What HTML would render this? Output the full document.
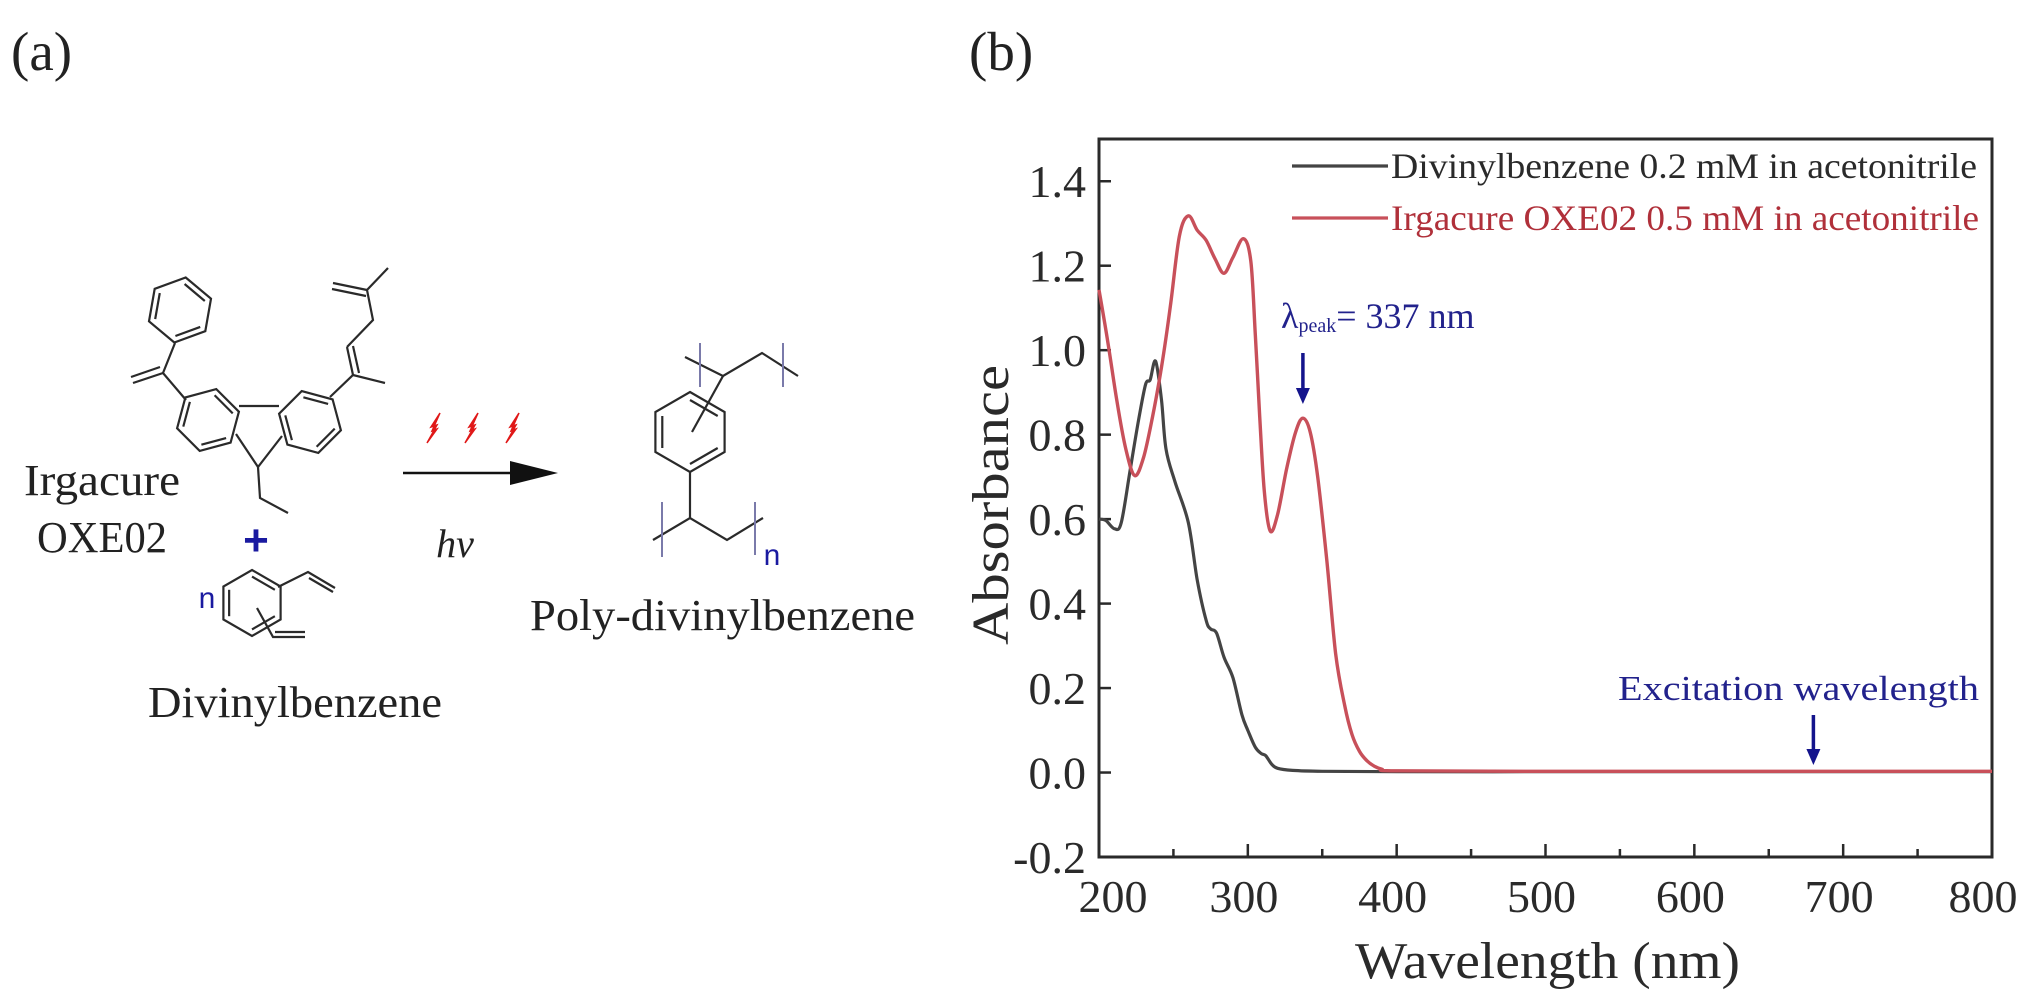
<!DOCTYPE html>
<html><head><meta charset="utf-8"><style>
html,body{margin:0;padding:0;background:#fff;}
svg{display:block;font-family:"Liberation Serif",serif;}
</style></head><body>
<svg id="fig" width="2032" height="1003" viewBox="0 0 2032 1003" xmlns="http://www.w3.org/2000/svg">
<rect width="2032" height="1003" fill="#fff"/>
<text x="11" y="70" font-size="55" fill="#222">(a)</text>
<text x="969" y="70" font-size="55" fill="#222">(b)</text>

<g id="scheme" stroke="#2a2a2a" stroke-width="2.2" fill="none">
</g>
<text x="24" y="495" font-size="44" fill="#222" textLength="156" lengthAdjust="spacingAndGlyphs">Irgacure</text>
<text x="37" y="552" font-size="44" fill="#222" textLength="130" lengthAdjust="spacingAndGlyphs">OXE02</text>
<text x="256" y="555" font-size="44" font-weight="bold" fill="#1a1aa0" text-anchor="middle" font-family="Liberation Sans, sans-serif">+</text>
<text x="455" y="557" font-size="40" font-style="italic" fill="#222" text-anchor="middle">hν</text>
<text x="530" y="630" font-size="44" fill="#222" textLength="385" lengthAdjust="spacingAndGlyphs">Poly-divinylbenzene</text>
<text x="148" y="717" font-size="44" fill="#222" textLength="294" lengthAdjust="spacingAndGlyphs">Divinylbenzene</text>
<text x="207" y="608" font-size="30" fill="#1a1aa0" text-anchor="middle" font-family="Liberation Sans, sans-serif">n</text>
<text x="772" y="565" font-size="30" fill="#1a1aa0" text-anchor="middle" font-family="Liberation Sans, sans-serif">n</text>

<g id="chart"></g>
</svg>
<script>
// ---- chart data ----
var wlBlack = [200,204.5,210.5,215,221,227,231.4,234.4,238,242,245,251,260,266,272,275,279,284,290,296,300,305,309,312,316,320,330,350,400,500,600,700,800];
var absBlack = [0.60,0.597,0.577,0.592,0.718,0.843,0.92,0.93,0.974,0.882,0.766,0.689,0.592,0.456,0.36,0.34,0.33,0.273,0.224,0.137,0.10,0.06,0.045,0.04,0.02,0.01,0.005,0.003,0.002,0.002,0.002,0.002,0.002];
var wlRed = [200,206,212,218,224,230,236,242,248,254,260,266,272,278,284,290,297,302,305,308,311,315,320,326,332,337,342,347,353,359,365,370,375,380,385,390,400,500,600,700,800];
var absRed = [1.143,1.018,0.88,0.766,0.703,0.747,0.843,0.96,1.105,1.27,1.318,1.284,1.26,1.216,1.182,1.22,1.264,1.211,1.037,0.843,0.669,0.572,0.611,0.718,0.805,0.839,0.805,0.698,0.505,0.282,0.16,0.09,0.05,0.028,0.015,0.008,0.004,0.003,0.003,0.003,0.003];
var xTicks = [200,300,400,500,600,700,800];
var xTickLabels = ["200","300","400","500","600","700","800"];
var xMinorTicks = [250,350,450,550,650,750];
var yTicks = [-0.2,0,0.2,0.4,0.6,0.8,1.0,1.2,1.4];
var yTickLabels = ["-0.2","0.0","0.2","0.4","0.6","0.8","1.0","1.2","1.4"];
var seriesNames = ["Divinylbenzene 0.2 mM in acetonitrile","Irgacure OXE02 0.5 mM in acetonitrile"];
var peakWl = 337;
var excitationWl = 680;

var NS = "http://www.w3.org/2000/svg";
var L = 1099, R = 1992, T = 139, B = 857;
var xMin = 200, xMax = 800, yMin = -0.2, yMax = 1.5;
function xs(v){ return L + (v - xMin) / (xMax - xMin) * (R - L); }
function ys(v){ return B - (v - yMin) / (yMax - yMin) * (B - T); }
function mk(tag, attrs, parent){ var e = document.createElementNS(NS, tag); for (var k in attrs) e.setAttribute(k, attrs[k]); parent.appendChild(e); return e; }

var chart = document.getElementById("chart");
var txt;
var frame = mk("rect", {x:L, y:T, width:R-L, height:B-T, fill:"none", stroke:"#2a2a2a", "stroke-width":3}, chart);



xTicks.forEach(function(v, i){
  var t = mk("line", {x1:xs(v), x2:xs(v), y1:B, y2:B-13, stroke:"#2a2a2a", "stroke-width":2.5}, chart);
  
  
  var lx = xs(v) + (i === 0 ? 14 : (i === xTicks.length-1 ? -9 : -4));
  txt = mk("text", {x:lx, y:912, "font-size":46, fill:"#2a2a2a", "text-anchor":"middle"}, chart);
  txt.textContent = xTickLabels[i];
  
  
});
xMinorTicks.forEach(function(v){
  var t = mk("line", {x1:xs(v), x2:xs(v), y1:B, y2:B-8, stroke:"#2a2a2a", "stroke-width":2.5}, chart);
  
  
});
yTicks.forEach(function(v, i){
  var t = mk("line", {x1:L, x2:L+12, y1:ys(v), y2:ys(v), stroke:"#2a2a2a", "stroke-width":2.5}, chart);
  
  
  txt = mk("text", {x:1086, y:ys(v)+16, "font-size":46, fill:"#2a2a2a", "text-anchor":"end"}, chart);
  txt.textContent = yTickLabels[i];
  
  
});

txt = mk("text", {x:1355, y:978, "font-size":52, fill:"#2a2a2a", textLength:385, lengthAdjust:"spacingAndGlyphs"}, chart);
txt.textContent = "Wavelength (nm)";


txt = mk("text", {x:0, y:0, "font-size":52, fill:"#2a2a2a", "text-anchor":"middle", textLength:280, lengthAdjust:"spacingAndGlyphs", transform:"translate(1008,505) rotate(-90)"}, chart);
txt.textContent = "Absorbance";



function linePath(xsArr, ysArr){
  var P = xsArr.map(function(x, i){ return [xs(x), ys(ysArr[i])]; });
  var d = "M" + P[0][0].toFixed(1) + "," + P[0][1].toFixed(1);
  for (var i = 0; i < P.length - 1; i++){
    var p0 = P[Math.max(0, i-1)], p1 = P[i], p2 = P[i+1], p3 = P[Math.min(P.length-1, i+2)];
    var c1x = p1[0] + (p2[0]-p0[0])/6, c1y = p1[1] + (p2[1]-p0[1])/6;
    var c2x = p2[0] - (p3[0]-p1[0])/6, c2y = p2[1] - (p3[1]-p1[1])/6;
    d += "C" + c1x.toFixed(1) + "," + c1y.toFixed(1) + " " + c2x.toFixed(1) + "," + c2y.toFixed(1) + " " + p2[0].toFixed(1) + "," + p2[1].toFixed(1);
  }
  return d;
}
var pb = mk("path", {d:linePath(wlBlack, absBlack), fill:"none", stroke:"#444", "stroke-width":3.2, "stroke-linejoin":"round"}, chart);


var pr = mk("path", {d:linePath(wlRed, absRed), fill:"none", stroke:"#c8505a", "stroke-width":3.4, "stroke-linejoin":"round"}, chart);



// legend
var legColors = ["#444", "#c8505a"], legText = ["#2a2a2a", "#b0303a"], legY = [166, 218];
seriesNames.forEach(function(n, i){
  var ln = mk("line", {x1:1292, x2:1388, y1:legY[i], y2:legY[i], stroke:legColors[i], "stroke-width":3.2}, chart);
  
  
  txt = mk("text", {x:1391, y:legY[i]+12, "font-size":36, fill:legText[i], textLength:(i ? 588 : 586), lengthAdjust:"spacingAndGlyphs"}, chart);
  txt.textContent = n;
  
  
});

// annotations
var pk = mk("text", {x:1281, y:328, "font-size":36, fill:"#22228c"}, chart);


pk.innerHTML = 'λ<tspan font-size="20" dy="4">peak</tspan><tspan dy="-4">= 337 nm</tspan>';
function arrow(x, y1, y2, name){
  var g = mk("g", {}, chart);
  
  
  mk("line", {x1:x, x2:x, y1:y1, y2:y2-14, stroke:"#14148c", "stroke-width":3.5}, g);
  mk("path", {d:"M"+(x-7)+","+(y2-16)+"L"+(x+7)+","+(y2-16)+"L"+x+","+y2+"Z", fill:"#14148c"}, g);
}
arrow(xs(peakWl), 353, 404, 'peak-arrow');
txt = mk("text", {x:1618, y:700, "font-size":35, fill:"#22228c", textLength:361, lengthAdjust:"spacingAndGlyphs"}, chart);
txt.textContent = "Excitation wavelength";


arrow(xs(excitationWl), 715, 765, 'excitation-arrow');

// ---- reaction scheme ----
var sc = document.getElementById("scheme");
function hexPts(cx, cy, r, rot){ var p = []; for (var i = 0; i < 6; i++){ var a = (rot + 60*i) * Math.PI/180; p.push([cx + r*Math.cos(a), cy + r*Math.sin(a)]); } return p; }
function ring(cx, cy, r, rot, name){
  var p = hexPts(cx, cy, r, rot);
  var e = mk("polygon", {points:p.map(function(q){return q[0].toFixed(1)+","+q[1].toFixed(1);}).join(" ")}, sc);
  
  
  var pi = hexPts(cx, cy, r*0.8, rot);
  [0,2,4].forEach(function(k){ mk("line", {x1:pi[k][0], y1:pi[k][1], x2:pi[(k+1)%6][0], y2:pi[(k+1)%6][1]}, sc); });
}
function seg(pts){ mk("polyline", {points:pts.map(function(q){return q.join(",");}).join(" ")}, sc); }
ring(180, 310, 33, -80, 'benzoyl-ring');
ring(208, 420, 32, -75, 'carbazole-left-ring');
ring(310, 422, 32, -105, 'carbazole-right-ring');
seg([[175,343],[163,373],[186,400]]);
seg([[163,373],[133,383]]); seg([[160,367],[131,377]]);
seg([[236,434],[258,467],[282,436]]);
seg([[239,406],[279,406]]);
seg([[258,467],[260,498],[288,513]]);
seg([[330,397],[353,375],[385,383]]);
seg([[353,375],[347,347]]); seg([[359,373],[353,346]]);
seg([[347,347],[373,320],[367,290],[388,268]]);
seg([[367,290],[333,283]]); seg([[366,296],[332,289]]);
ring(252, 603, 33, -90, 'divinylbenzene-ring');
seg([[278,587],[308,572],[335,588]]); seg([[309,578],[333,592]]);
seg([[257,608],[273,637],[305,637]]); seg([[275,632],[305,632]]);
ring(690, 432, 40, -90, 'polymer-ring');
seg([[690,472],[690,518]]);
seg([[653,540],[690,518],[727,540],[763,518]]);
seg([[692,432],[723,376]]);
seg([[685,357],[723,376],[762,353],[798,376]]);
var br = mk("g", {stroke:"#7a7aaa", "stroke-width":2}, sc);


[[700,343,387],[783,343,387],[662,502,557],[755,502,555]].forEach(function(b){ mk("line", {x1:b[0], x2:b[0], y1:b[1], y2:b[2]}, br); });
var arr = mk("g", {}, sc);


mk("line", {x1:403, x2:515, y1:473, y2:473, stroke:"#111", "stroke-width":2.5}, arr);
mk("path", {d:"M510,461L558,473L510,485Z", fill:"#111", stroke:"none"}, arr);
[434, 472, 513].forEach(function(x){
  var b = mk("path", {d:"M"+(x+6)+",413L"+(x-3)+",427L"+(x+3)+",425L"+(x-7)+",443L"+(x+3)+",429L"+(x-2)+",431Z", fill:"#e01818", stroke:"#e01818", "stroke-width":1.5}, sc);
  
  
});
</script>
</body></html>
